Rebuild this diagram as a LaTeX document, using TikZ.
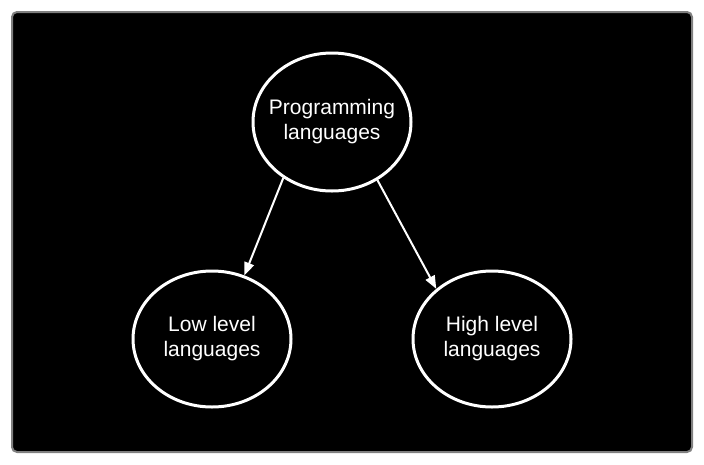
\documentclass[tikz,border=0pt]{standalone}
\usepackage{fontspec}
\setmainfont{Liberation Sans}
\usetikzlibrary{shapes.geometric,arrows.meta}
\begin{document}
\begin{tikzpicture}[x=1pt,y=-1pt,
  bubble/.style={ellipse,draw=white,line width=3pt,fill=black,
    minimum width=158pt,minimum height=136pt,inner sep=0pt},
  words/.style={text=white,align=center,font=\fontsize{21}{25}\selectfont},
  link/.style={draw=white,line width=2pt,-{Triangle[length=13pt,width=10pt,fill=white]}}]
\useasboundingbox (0,0) rectangle (704,464);
\fill[white] (0,0) rectangle (704,464);
\node[draw=black!50,line width=2pt,fill=black,rounded corners=5pt,minimum width=680pt,minimum height=440pt,inner sep=0pt] (frame) at (352,232) {};
\node[bubble,minimum height=138pt,label={[words]center:Programming\\languages}] (top) at (332,122) {};
\node[bubble,label={[words]center:Low level\\languages}] (low) at (212,339) {};
\node[bubble,label={[words]center:High level\\languages}] (high) at (492,339) {};
\draw[link] (top.229) -- (low.63);
\draw[link] (top.-52) -- (high.138);
\end{tikzpicture}
\end{document}
